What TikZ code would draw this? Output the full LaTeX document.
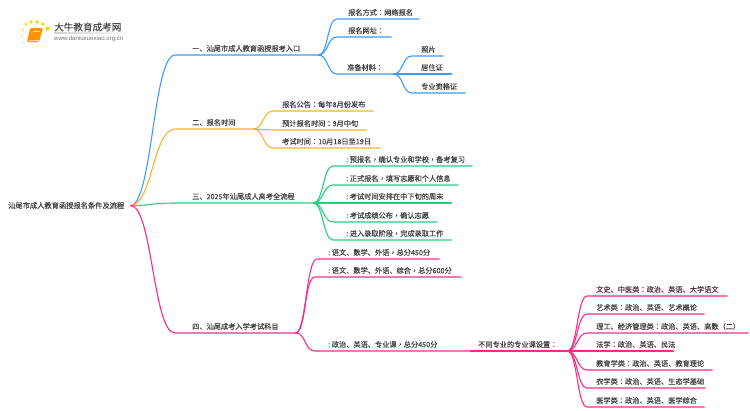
\documentclass[tikz,border=0pt]{standalone}
\usepackage{fontspec}
\setmainfont{Liberation Sans}
\newfontfamily\cjk[FakeBold=0.12]{Noto Sans CJK SC}
\newfontfamily\cjkt[FakeBold=0.12]{Noto Sans CJK TC}
\newcommand{\cc}{{\cjkt ：}}
\newcommand{\cd}{{\cjkt ，}}
\newcommand{\lc}{:\hspace{1.6pt}}
\definecolor{cblue}{HTML}{3C9CFB}
\definecolor{corange}{HTML}{F7B232}
\definecolor{cgreen}{HTML}{2ECB80}
\definecolor{cpink}{HTML}{FB2C86}
\definecolor{ctext}{HTML}{404040}
\tikzset{
  x=1pt,y=-1pt,
  lbl/.style 2 args={anchor=south west,inner xsep=0pt,inner ysep=3.6pt,text width=#1,align=left,
    text height=6.4pt,text depth=0pt,font=\fontsize{7.2}{8}\cjk,text=ctext,
    execute at begin node={\hspace*{#2}}},
  lnk/.style={line width=1.1pt,line cap=round,fill=none},
  rootn/.style={anchor=west,inner xsep=6pt,inner ysep=2pt,font=\fontsize{7.25}{8}\cjk,text=ctext},
  brand/.style={anchor=west,inner sep=0pt,font=\fontsize{9.6}{10}\cjk,text=black!70},
  site/.style={anchor=west,inner sep=0pt,font=\fontsize{6.1}{7}\selectfont,text=black!55},
  dot/.style={fill=#1,draw=none},
}
\begin{document}
\begin{tikzpicture}
\useasboundingbox (0,0) rectangle (750,410);
% logo
\fill[dot=yellow!70!orange] (26,24) circle (1.5) (31,22) circle (1.8) (37,22) circle (1.8) (43,24) circle (1.8) (47.5,28.5) circle (2.1);
\fill[dot=yellow!60!orange!60] (23,30) circle (1.1) (22,36) circle (1) (23.5,42.5) circle (0.9);
\fill[orange!85!yellow,rounded corners=1.2pt] (30,28) -- (43,28) -- (39,42) -- (27,42) -- cycle;
\draw[orange!25,line width=0.5pt] (28.5,39.8) -- (39.2,39.8);
\draw[orange!30,line width=0.5pt] (33,31) -- (40,31);
\shade[left color=black!18,right color=white] (54,32.8) rectangle (133,33.4);
\node[brand] (brandname) at (54,27) {大牛教育成考网};
\node[site] (siteurl) at (54,38.5) {www.daniuxuexiao.org.cn};
% root
\node[rootn] (root) at (2,205.5) {汕尾市成人教育函授报名条件及流程};
% branch 1
\node[lbl={143pt}{17pt}] (m1) at (175,55) {一、汕尾市成人教育函授报考入口};
\node[lbl={82pt}{11pt}] (a1) at (337,19) {报名方式\cc 网络报名};
\node[lbl={54pt}{11pt}] (a2) at (337,37) {报名网址\cc};
\node[lbl={56pt}{10pt}] (a3) at (337,74) {准备材料\cc};
\node[lbl={31pt}{9pt}] (b1) at (412,56) {照片};
\node[lbl={39pt}{9pt}] (b2) at (412,74) {居住证};
\node[lbl={53pt}{9pt}] (b3) at (412,93) {专业资格证};
\begin{scope}[cblue,lnk]
\draw (root.east) .. controls +(22,0) and +(-22,0) .. (m1.south west) -- (m1.south east);
\foreach \t in {a1,a2,a3}
  \draw (m1.south east) .. controls +(10,0) and +(-10,0) .. (\t.south west) -- (\t.south east);
\foreach \t in {b1,b2,b3}
  \draw (a3.south east) .. controls +(10,0) and +(-10,0) .. (\t.south west) -- (\t.south east);
\end{scope}
% branch 2
\node[lbl={78pt}{17pt}] (m2) at (175,129) {二、报名时间};
\node[lbl={100pt}{9pt}] (c1) at (273,111) {报名公告\cc 每年8月份发布};
\node[lbl={93pt}{9pt}] (c2) at (273,130) {预计报名时间\cc 9月中旬};
\node[lbl={107pt}{9pt}] (c3) at (273,148) {考试时间\cc 10月18日至19日};
\begin{scope}[corange,lnk]
\draw (root.east) .. controls +(22,0) and +(-22,0) .. (m2.south west) -- (m2.south east);
\foreach \t in {c1,c2,c3}
  \draw (m2.south east) .. controls +(10,0) and +(-10,0) .. (\t.south west) -- (\t.south east);
\end{scope}
% branch 3
\node[lbl={138pt}{17pt}] (m3) at (175,203) {三、2025年汕尾成人高考全流程};
\node[lbl={139pt}{13pt}] (d1) at (333,166) {\lc 预报名\cd 确认专业和学校\cd 备考复习};
\node[lbl={125pt}{13pt}] (d2) at (333,185) {\lc 正式报名\cd 填写志愿和个人信息};
\node[lbl={118pt}{13pt}] (d3) at (333,203) {\lc 考试时间安排在中下旬的周末};
\node[lbl={104pt}{13pt}] (d4) at (333,222) {\lc 考试成绩公布\cd 确认志愿};
\node[lbl={118pt}{13pt}] (d5) at (333,240) {\lc 进入录取阶段\cd 完成录取工作};
\begin{scope}[cgreen,lnk]
\draw (root.east) .. controls +(22,0) and +(-22,0) .. (m3.south west) -- (m3.south east);
\foreach \t in {d1,d2,d3,d4,d5}
  \draw (m3.south east) .. controls +(10,0) and +(-10,0) .. (\t.south west) -- (\t.south east);
\end{scope}
% branch 4
\node[lbl={120pt}{17pt}] (m4) at (175,333) {四、汕尾成考入学考试科目};
\node[lbl={122pt}{11pt}] (e1) at (317,259) {\lc 语文、数学、外语\cd 总分450分};
\node[lbl={146pt}{13pt}] (e2) at (315,277) {\lc 语文、数学、外语、综合\cd 总分600分};
\node[lbl={155pt}{13pt}] (e3) at (315,351) {\lc 政治、英语、专业课\cd 总分450分};
\node[lbl={97pt}{8pt}] (e4) at (470,351) {不同专业的专业课设置\cc};
\node[lbl={140pt}{9pt}] (g1) at (587,296) {文史、中医类\cc 政治、英语、大学语文};
\node[lbl={117pt}{9pt}] (g2) at (587,314) {艺术类\cc 政治、英语、艺术概论};
\node[lbl={161pt}{9pt}] (g3) at (587,333) {理工、经济管理类\cc 政治、英语、高数（二）};
\node[lbl={86pt}{9pt}] (g4) at (587,351) {法学\cc 政治、英语、民法};
\node[lbl={125pt}{9pt}] (g5) at (587,370) {教育学类\cc 政治、英语、教育理论};
\node[lbl={118pt}{9pt}] (g6) at (587,388) {农学类\cc 政治、英语、生态学基础};
\node[lbl={117pt}{9pt}] (g7) at (587,407) {医学类\cc 政治、英语、医学综合};
\begin{scope}[cpink,lnk]
\draw (root.east) .. controls +(22,0) and +(-22,0) .. (m4.south west) -- (m4.south east);
\foreach \t in {e1,e2,e3}
  \draw (m4.south east) .. controls +(11,0) and +(-11,0) .. (\t.south west) -- (\t.south east);
\draw (e3.south east) -- (e4.south west) -- (e4.south east);
\foreach \t in {g1,g2,g3,g4,g5,g6,g7}
  \draw (e4.south east) .. controls +(10,0) and +(-10,0) .. (\t.south west) -- (\t.south east);
\end{scope}
\end{tikzpicture}
\end{document}
